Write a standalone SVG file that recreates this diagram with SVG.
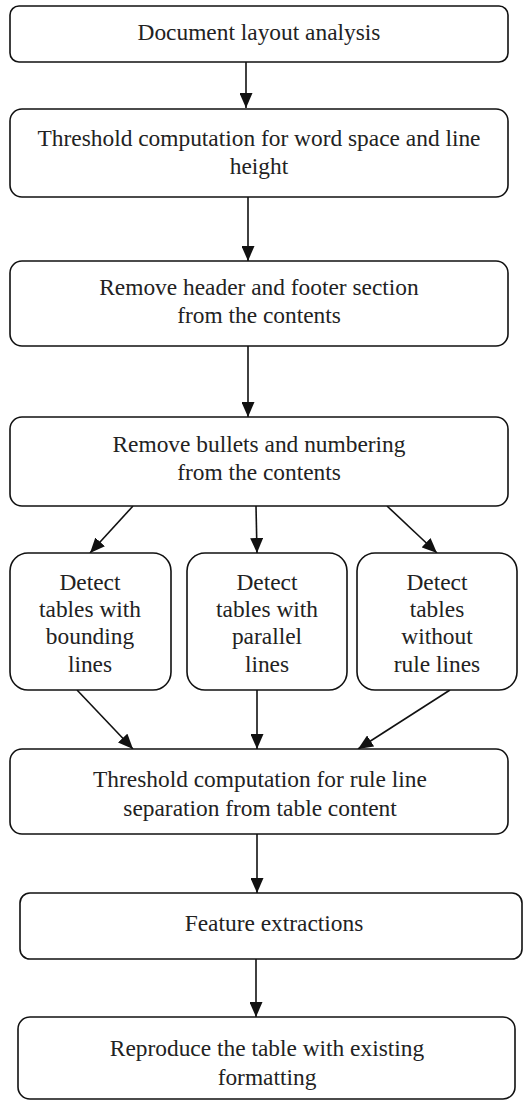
<svg xmlns="http://www.w3.org/2000/svg" width="523" height="1101" viewBox="0 0 523 1101">
<defs>
<style>
.box{fill:#fff;stroke:#111;stroke-width:1.6}
.t{font-family:"Liberation Serif","Times New Roman",Times,serif;font-size:23.4px;fill:#222;text-anchor:middle}
.c{stroke:#111;stroke-width:1.6;fill:none;marker-end:url(#ah)}
</style>
<marker id="ah" markerUnits="userSpaceOnUse" markerWidth="15" markerHeight="13" refX="15" refY="6.5" orient="auto">
<path d="M0,0 L15,6.5 L0,13 z" fill="#111"/>
</marker>
</defs>
<rect width="523" height="1101" fill="#fff"/>
<g id="connectors">
<line class="c" x1="246" y1="62" x2="246" y2="108"/>
<line class="c" x1="248" y1="197" x2="248" y2="261"/>
<line class="c" x1="248" y1="346" x2="248" y2="417"/>
<line class="c" x1="133" y1="506" x2="90" y2="553"/>
<line class="c" x1="256" y1="506" x2="257" y2="553"/>
<line class="c" x1="387" y1="506" x2="437" y2="553"/>
<line class="c" x1="77" y1="690" x2="133" y2="749"/>
<line class="c" x1="257" y1="690" x2="257" y2="749"/>
<line class="c" x1="450" y1="690" x2="358" y2="749"/>
<line class="c" x1="257" y1="834" x2="257" y2="893"/>
<line class="c" x1="256" y1="959" x2="256" y2="1017"/>
</g>
<g id="n1">
<rect class="box" x="10" y="6" width="498" height="56" rx="9"/>
<text class="t" x="259" y="40">Document layout analysis</text>
</g>
<g id="n2">
<rect class="box" x="10" y="109" width="498" height="88" rx="12"/>
<text class="t" x="259" y="146">Threshold computation for word space and line</text>
<text class="t" x="259" y="174">height</text>
</g>
<g id="n3">
<rect class="box" x="10" y="261" width="498" height="85" rx="12"/>
<text class="t" x="259" y="295">Remove header and footer section</text>
<text class="t" x="259" y="323">from the contents</text>
</g>
<g id="n4">
<rect class="box" x="10" y="417" width="498" height="89" rx="12"/>
<text class="t" x="259" y="452">Remove bullets and numbering</text>
<text class="t" x="259" y="480">from the contents</text>
</g>
<g id="n5">
<rect class="box" x="10" y="553" width="161" height="137" rx="18"/>
<text class="t" x="90" y="590">Detect</text>
<text class="t" x="90" y="617">tables with</text>
<text class="t" x="90" y="644">bounding</text>
<text class="t" x="90" y="672">lines</text>
</g>
<g id="n6">
<rect class="box" x="187" y="553" width="160" height="137" rx="18"/>
<text class="t" x="267" y="590">Detect</text>
<text class="t" x="267" y="617">tables with</text>
<text class="t" x="267" y="644">parallel</text>
<text class="t" x="267" y="672">lines</text>
</g>
<g id="n7">
<rect class="box" x="357" y="553" width="160" height="137" rx="18"/>
<text class="t" x="437" y="590">Detect</text>
<text class="t" x="437" y="617">tables</text>
<text class="t" x="437" y="644">without</text>
<text class="t" x="437" y="672">rule lines</text>
</g>
<g id="n8">
<rect class="box" x="10" y="749" width="498" height="85" rx="12"/>
<text class="t" x="260" y="787">Threshold computation for rule line</text>
<text class="t" x="260" y="816">separation from table content</text>
</g>
<g id="n9">
<rect class="box" x="20" y="893" width="502" height="66" rx="10"/>
<text class="t" x="274" y="931">Feature extractions</text>
</g>
<g id="n10">
<rect class="box" x="18" y="1017" width="497" height="82" rx="12"/>
<text class="t" x="267" y="1056">Reproduce the table with existing</text>
<text class="t" x="267" y="1085">formatting</text>
</g>
</svg>
